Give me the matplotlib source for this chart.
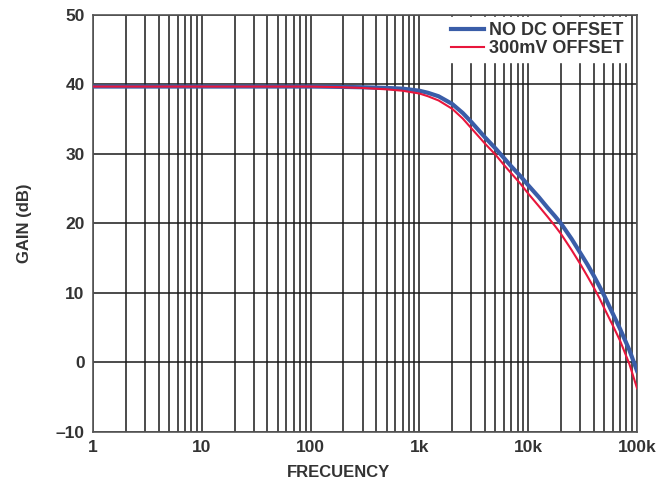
import matplotlib.pyplot as plt
import matplotlib.ticker as ticker

freq = [1, 10, 100, 200, 300, 500, 700, 1000, 1200, 1500, 2000, 2500, 3000,
        4000, 5000, 6000, 7000, 8500, 10000, 12500, 15000, 17500, 20000,
        25000, 30000, 35000, 40000, 45000, 50000, 60000, 70000, 85000, 100000]
gain_no_dc = [39.7, 39.7, 39.7, 39.65, 39.6, 39.5, 39.4, 39.1, 38.8, 38.3, 37.2, 35.9, 34.6,
              32.4, 30.8, 29.4, 28.2, 26.8, 25.5, 23.8, 22.3, 21.1, 20.0,
              17.8, 15.8, 14.1, 12.5, 11.0, 9.6, 7.0, 4.8, 1.8, -1.2]
gain_300mv = [39.7, 39.7, 39.7, 39.6, 39.5, 39.3, 39.1, 38.7, 38.3, 37.7, 36.5, 35.1, 33.7,
              31.5, 29.9, 28.4, 27.2, 25.7, 24.3, 22.5, 21.0, 19.7, 18.5,
              16.2, 14.2, 12.4, 10.8, 9.3, 7.8, 5.3, 3.1, -0.2, -3.7]
xticks = [1, 10, 100, 1000, 10000, 100000]
xlabels = ["1", "10", "100", "1k", "10k", "100k"]
yticks = [-10, 0, 10, 20, 30, 40, 50]
ylabels = ["\u201310", "0", "10", "20", "30", "40", "50"]

plt.rcParams["font.family"] = ["Liberation Sans", "DejaVu Sans"]
plt.rcParams["font.weight"] = "bold"
txt = "#333333"

fig = plt.figure(figsize=(6.57, 4.83), dpi=100)
ax = fig.add_axes([0.1416, 0.1056, 0.828, 0.8634])
ax.set_xscale("log")
ax.set_xlim(1, 100000)
ax.set_ylim(-10, 50)

ax.plot(freq, gain_no_dc, color="#3a5da8", linewidth=3.0, label="NO DC OFFSET", zorder=3)
ax.plot(freq, gain_300mv, color="#e8163c", linewidth=1.5, label="300mV OFFSET", zorder=4)

ax.set_xticks(xticks)
ax.set_xticklabels(xlabels)
ax.xaxis.set_minor_locator(ticker.LogLocator(base=10, subs=range(2, 10)))
ax.xaxis.set_minor_formatter(ticker.NullFormatter())
ax.set_yticks(yticks)
ax.set_yticklabels(ylabels)
ax.grid(True, which="both", axis="x", color="#1a1a1a", linewidth=1.1)
ax.grid(True, which="major", axis="y", color="#1a1a1a", linewidth=1.1)
ax.tick_params(which="both", length=0, labelsize=12.5, labelcolor=txt)
ax.tick_params(axis="x", pad=6)
ax.tick_params(axis="y", pad=6)
for s in ax.spines.values():
    s.set_color("#555555")
    s.set_linewidth(1.2)

ax.set_xlabel("FRECUENCY", fontsize=12, fontweight="bold", color=txt)
ax.xaxis.set_label_coords(0.451, -0.08)
ax.set_ylabel("GAIN (dB)", fontsize=12, fontweight="bold", color=txt)
ax.yaxis.set_label_coords(-0.112, 0.5)

leg = ax.legend(loc="upper right", bbox_to_anchor=(0.986, 0.995), fontsize=13,
                frameon=True, fancybox=False, borderpad=0.3, handlelength=1.8,
                handletextpad=0.3, labelspacing=0.02, borderaxespad=0)
leg.get_frame().set_facecolor("white")
leg.get_frame().set_edgecolor("white")
leg.get_frame().set_alpha(1)
for t in leg.get_texts():
    t.set_color(txt)

plt.savefig("out.png", dpi=100)
